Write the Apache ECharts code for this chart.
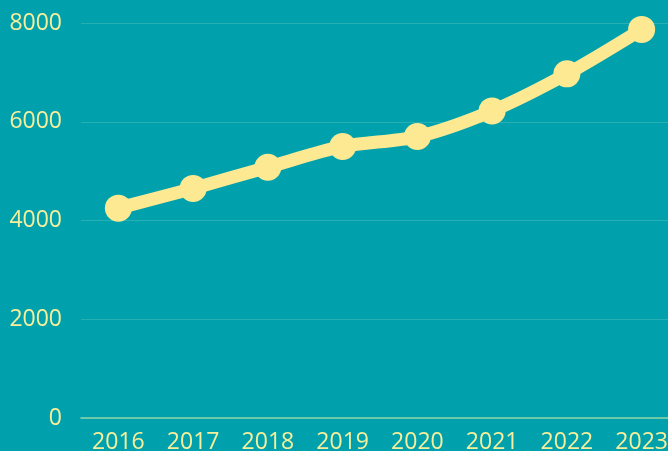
<!DOCTYPE html>
<html><head><meta charset="utf-8">
<script src="https://cdn.jsdelivr.net/npm/echarts@6/dist/echarts.min.js"></script>
<style>html,body{margin:0;padding:0;background:#00a1ac;}#c{width:668px;height:451px;}</style>
</head><body><div id="c"></div>
<script>
const categories = ['2016','2017','2018','2019','2020','2021','2022','2023'];
const values = [4250, 4650, 5080, 5500, 5700, 6220, 6970, 7870];
const yTicks = [0, 2000, 4000, 6000, 8000];
const chart = echarts.init(document.getElementById('c'));
chart.setOption({
  backgroundColor: '#00a1ac',
  animation: false,
  grid: {left: 81, width: 598, top: 23, bottom: 33, containLabel: false, outerBoundsMode: 'none'},
  xAxis: {
    type: 'category', data: categories, boundaryGap: true,
    axisLine: {lineStyle: {color: '#8fd3a6', width: 1.5}},
    axisTick: {show: false},
    axisLabel: {color: '#f6ef9c', fontSize: 23, fontFamily: 'Open Sans', margin: 13}
  },
  yAxis: {
    type: 'value', min: yTicks[0], max: yTicks[yTicks.length-1], interval: 2000,
    axisLine: {show: false}, axisTick: {show: false},
    splitLine: {lineStyle: {color: '#27b0b4', width: 1}},
    axisLabel: {color: '#f6ef9c', fontSize: 23, fontFamily: 'Open Sans', margin: 19,
      formatter: v => String(v)}
  },
  series: [{
    type: 'line', data: values, smooth: 0.3,
    symbol: 'circle', symbolSize: 27,
    lineStyle: {color: '#fde992', width: 13},
    itemStyle: {color: '#fde992'}
  }]
});
</script></body></html>
